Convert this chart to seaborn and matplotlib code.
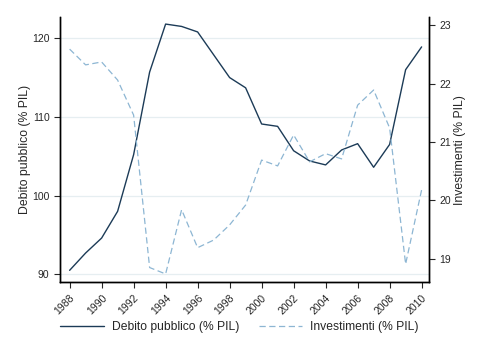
import pandas as pd
import matplotlib.pyplot as plt
import seaborn as sns
from matplotlib.lines import Line2D

years = list(range(1988, 2011))
debito = [90.5, 92.7, 94.6, 98.0, 105.2, 115.7, 121.8, 121.5, 120.8, 117.9, 115.0, 113.7,
          109.1, 108.8, 105.7, 104.4, 103.9, 105.8, 106.6, 103.6, 106.5, 116.0, 118.9]
investimenti = [22.59, 22.32, 22.37, 22.06, 21.46, 18.85, 18.74, 19.84, 19.19, 19.32, 19.58, 19.92,
                20.69, 20.59, 21.12, 20.66, 20.80, 20.71, 21.63, 21.89, 21.24, 18.91, 20.18]

df = pd.DataFrame({'anno': years, 'debito': debito, 'investimenti': investimenti})

sns.set_style("ticks")
plt.rcParams['font.family'] = ['Liberation Sans', 'DejaVu Sans']

navy = '#1c3b57'
light = '#8db6d3'
dash = (0, (5, 2.8))

fig = plt.figure(figsize=(4.84, 3.54), dpi=100)
ax = fig.add_axes([0.124, 0.203, 0.762, 0.749])
ax2 = ax.twinx()

# grid on left axis ticks
for v in [90, 100, 110, 120]:
    ax.axhline(v, color='#e6eef1', linewidth=0.9, zorder=0)

sns.lineplot(data=df, x='anno', y='debito', ax=ax, color=navy, linewidth=1.0, zorder=3)
sns.lineplot(data=df, x='anno', y='investimenti', ax=ax2, color=light, linewidth=0.9,
             linestyle=dash, zorder=2)

ax.set_xlim(1987.4, 2010.45)
ax.set_ylim(89.0, 122.7)
ax2.set_ylim(18.6, 23.14)
ax.set_yticks([90, 100, 110, 120])
ax2.set_yticks([19, 20, 21, 22, 23])
ax.set_xticks(range(1988, 2011, 2))
ax.set_xticklabels([str(y) for y in range(1988, 2011, 2)], rotation=45, ha='right',
                   rotation_mode='anchor', fontsize=7.5)

ax.set_xlabel('')
ax.set_ylabel('Debito pubblico (% PIL)', fontsize=8.8, labelpad=1)
ax2.set_ylabel('Investimenti (% PIL)', fontsize=8.8, labelpad=2)
ax.tick_params(axis='y', labelsize=7.5, length=4, width=0.8)
ax2.tick_params(axis='y', labelsize=7.5, length=4, width=0.8)
ax.tick_params(axis='x', length=4, width=0.8)

for a in (ax, ax2):
    a.spines['top'].set_visible(False)
    for s in ('left', 'right', 'bottom'):
        a.spines[s].set_linewidth(1.0)
        a.spines[s].set_color('black')
ax.spines['right'].set_visible(True)
ax2.spines['left'].set_visible(True)

handles = [Line2D([], [], color=navy, linewidth=1.0),
           Line2D([], [], color=light, linewidth=0.9, linestyle=dash)]
fig.legend(handles, ['Debito pubblico (% PIL)', 'Investimenti (% PIL)'],
           loc='center', bbox_to_anchor=(0.495, 0.076), ncol=2, frameon=False,
           fontsize=8.7, handlelength=3.6, handletextpad=0.66, columnspacing=1.65)

fig.savefig('out.png', dpi=100)
